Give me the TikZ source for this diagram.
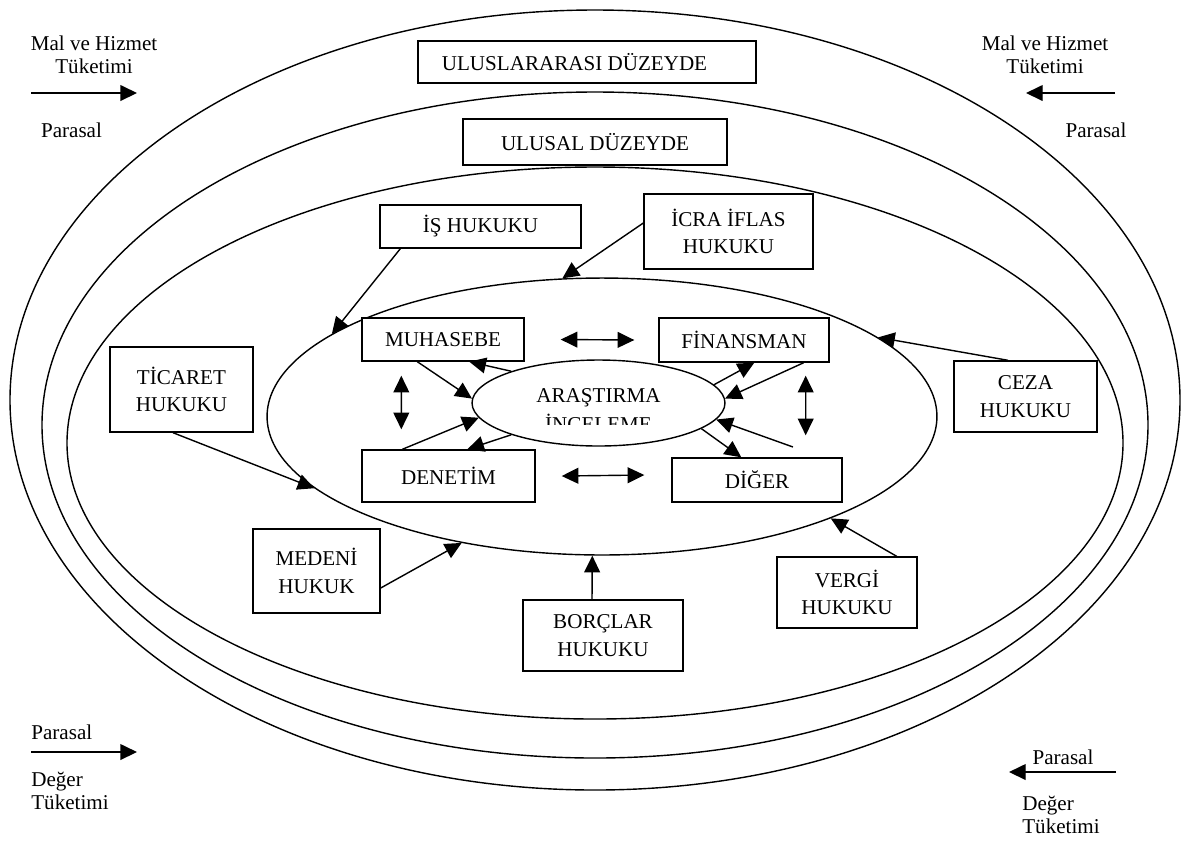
\documentclass[tikz,border=0pt]{standalone}
\usepackage{fontspec}
\setmainfont{Liberation Serif}
\usepackage{tikz}
\usetikzlibrary{positioning,arrows.meta,shapes.geometric}

\tikzset{
  kutu/.style={draw, fill=white, line width=0.8pt, align=center, inner sep=0pt,
    font=\fontsize{12}{15.5}\selectfont},
  etiket/.style={inner sep=0pt, font=\fontsize{12}{13}\selectfont},
  halka/.style={draw, line width=0.8pt},
  ok/.style={line width=0.8pt, -{Triangle[length=9.5pt,width=9pt]}},
  ciftok/.style={line width=0.8pt,
    {Triangle[length=9.5pt,width=9pt]}-{Triangle[length=9.5pt,width=9pt]}},
}

\begin{document}
\begin{tikzpicture}[x=0.02cm, y=-0.02cm]
  \useasboundingbox (0,0) rectangle (1189,840);

  % duzeyler
  \draw[halka] (595,400) ellipse [x radius=585, y radius=390];
  \draw[halka] (595,425) ellipse [x radius=553, y radius=333];
  \draw[halka] (595,443) ellipse [x radius=528, y radius=276];
  \node[halka, ellipse, minimum width=13.4cm, minimum height=5.54cm, inner sep=0pt]
    (isletme) at (602,416.5) {};

  \node[kutu, minimum width=6.76cm, minimum height=0.84cm] (uluslararasi) at (587,62) {\hspace*{-0.5cm}ULUSLARARASI DÜZEYDE};
  \node[kutu, minimum width=5.28cm, minimum height=0.92cm] (ulusal) at (595,142) {ULUSAL DÜZEYDE};

  % hukuk dallari
  \node[kutu, minimum width=4.02cm, minimum height=0.86cm] (is) at (480.5,226.5) {İŞ HUKUKU};
  \node[kutu, minimum width=3.38cm, minimum height=1.5cm] (icra) at (728.5,231.5) {İCRA İFLAS\\HUKUKU};
  \node[kutu, minimum width=2.86cm, minimum height=1.7cm] (ticaret) at (181.5,389.5) {TİCARET\\HUKUKU};
  \node[kutu, minimum width=2.86cm, minimum height=1.42cm] (ceza) at (1025.5,396.5) {CEZA\\HUKUKU};
  \node[kutu, minimum width=2.54cm, minimum height=1.68cm] (medeni) at (316.5,571) {MEDENİ\\HUKUK};
  \node[kutu, minimum width=3.2cm, minimum height=1.42cm] (borclar) at (603,635.5) {BORÇLAR\\HUKUKU};
  \node[kutu, minimum width=2.8cm, minimum height=1.42cm] (vergi) at (847,592.5) {VERGİ\\HUKUKU};

  \draw[ok] ([xshift=0.42cm]is.south west) -- (isletme.163);
  \draw[ok] ([yshift=0.17cm]icra.west) -- (isletme.106);
  \draw[ok] ([xshift=-0.17cm]ticaret.south) -- (isletme.194);
  \draw[ok] ([yshift=-0.34cm]medeni.east) -- (isletme.222);
  \draw[ok] ([xshift=-0.22cm]borclar.north) -- (isletme.266);
  \draw[ok] ([xshift=-0.42cm]vergi.north east) -- (isletme.336);
  \draw[ok] ([xshift=-0.35cm]ceza.north) -- (isletme.16);

  % isletme ici
  \node[kutu, minimum width=3.24cm, minimum height=0.86cm] (muhasebe) at (443,339.5) {MUHASEBE};
  \node[kutu, minimum width=3.4cm, minimum height=0.88cm] (finansman) at (744,340) {FİNANSMAN};
  \node[kutu, minimum width=3.46cm, minimum height=1.04cm] (denetim) at (448.5,476) {DENETİM};
  \node[kutu, minimum width=3.4cm, minimum height=0.88cm] (diger) at (757,480) {DİĞER};

  \node[halka, ellipse, minimum width=5.06cm, minimum height=1.72cm, inner sep=0pt]
    (arastirma) at (598.5,403) {};
  \begin{scope}
    \clip (472,360) rectangle (725,424);
    \node[kutu, draw=none, fill=none, font=\fontsize{12}{16.4}\selectfont]
      (arastirmaYazi) at (598.5,410.5) {ARAŞTIRMA\\İNCELEME};
  \end{scope}

  \draw[ok] ([xshift=1.12cm]muhasebe.south west) -- (arastirma.178);
  \draw[ok] (arastirma.160) -- ([xshift=2.16cm]muhasebe.south west);
  \draw[ok] ([xshift=0.82cm]denetim.north west) -- (arastirma.187);
  \draw[ok] (arastirma.200) -- ([xshift=2.12cm]denetim.north west);
  \draw[ok] (arastirma.9) -- ([xshift=1.92cm]finansman.south west);
  \draw[ok] ([xshift=-0.52cm]finansman.south east) -- (arastirma.2);
  \coordinate (digerUst) at (793,447);
  \draw[ok] (digerUst) -- (arastirma.352);
  \draw[ok] (arastirma.346) -- ([xshift=1.4cm]diger.north west);

  \draw[ciftok] ([xshift=0.72cm]muhasebe.east) -- ([xshift=-0.48cm]finansman.west);
  \draw[ciftok] ([xshift=0.52cm]denetim.east) -- ([xshift=-0.54cm,yshift=0.1cm]diger.west);
  \draw[ciftok] ([xshift=0.8cm,yshift=-0.28cm]muhasebe.south west) -- ([xshift=0.8cm,yshift=0.4cm]denetim.north west);
  \draw[ciftok] ([xshift=-0.48cm,yshift=-0.26cm]finansman.south east) -- ([xshift=-0.74cm,yshift=0.44cm]diger.north east);

  % akislar
  \node[etiket, align=center] (malSol) at (94,55) {Mal ve Hizmet\\Tüketimi};
  \node[etiket] (parasalSolUst) at (71.5,130) {Parasal};
  \coordinate (okSolUstA) at (31,93);
  \coordinate (okSolUstB) at (137,93);
  \draw[ok] (okSolUstA) -- (okSolUstB);

  \node[etiket, align=center] (malSag) at (1045,55) {Mal ve Hizmet\\Tüketimi};
  \node[etiket] (parasalSagUst) at (1096,130) {Parasal};
  \coordinate (okSagUstA) at (1115,93);
  \coordinate (okSagUstB) at (1026,93);
  \draw[ok] (okSagUstA) -- (okSagUstB);

  \node[etiket, anchor=west] (parasalSolAlt) at (31,732) {Parasal};
  \node[etiket, align=left, anchor=west] (degerSol) at (31,791) {Değer\\Tüketimi};
  \coordinate (okSolAltA) at (31,752);
  \coordinate (okSolAltB) at (137,752);
  \draw[ok] (okSolAltA) -- (okSolAltB);

  \node[etiket] (parasalSagAlt) at (1063,757) {Parasal};
  \node[etiket, align=left, anchor=west] (degerSag) at (1022,815) {Değer\\Tüketimi};
  \coordinate (okSagAltA) at (1116,772);
  \coordinate (okSagAltB) at (1009,772);
  \draw[ok] (okSagAltA) -- (okSagAltB);
\end{tikzpicture}
\end{document}
